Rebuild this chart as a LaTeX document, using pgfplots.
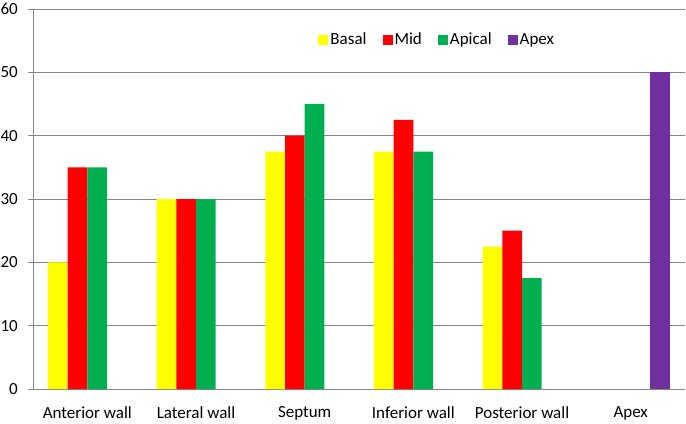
\documentclass[border=0pt]{standalone}
\usepackage{fontspec}
\setmainfont{Carlito}
\usepackage{pgfplots}
\pgfplotsset{compat=1.18}
\definecolor{cBasal}{HTML}{FFFF00}
\definecolor{cMid}{HTML}{FF0000}
\definecolor{cApical}{HTML}{00B050}
\definecolor{cApex}{HTML}{7030A0}
\definecolor{gridc}{HTML}{868686}
\begin{document}
\fontsize{17}{20}\selectfont
\begin{tikzpicture}
\begin{axis}[
  name=ax,
  scale only axis, width=652pt, height=380pt,
  ybar=0pt, bar width=0.181,
  xmin=-0.5, xmax=5.5, ymin=0, ymax=60,
  ytick={0,10,...,60},
  xtick={0,1,2,3,4,5},
  xticklabels={Anterior wall,Lateral wall,Septum,Inferior wall,Posterior wall,Apex},
  major x tick style={draw=none},
  extra x ticks={-0.5,0.5,1.5,2.5,3.5,4.5,5.5},
  extra x tick labels={},
  extra x tick style={tick style={draw=gridc, line width=0.8pt}, major tick length=5pt, tick pos=left, xtick align=outside, grid=none},
  ymajorgrids, grid style={gridc, line width=0.8pt},
  axis x line*=bottom, axis y line*=left,
  axis line style={gridc, line width=0.8pt, -},
  y axis line style={gridc},
  ytick style={draw=gridc, line width=0.8pt},
  ytick align=outside, major tick length=5pt,
  tick label style={font=\fontsize{17}{20}\selectfont, text=black},
  yticklabel style={inner sep=0pt, anchor=east, xshift=-10pt},
  xticklabel style={inner sep=0pt, yshift=-12.5pt},
  /pgf/number format/assume math mode=true,
  legend style={draw=none, fill=none, at={(0.62,0.918)}, anchor=center,
    legend columns=4, font=\fontsize{17}{20}\selectfont,
    /tikz/every even column/.append style={column sep=14pt}},
  legend image code/.code={\fill[#1] (0pt,-5pt) rectangle (10pt,5pt);},
  every axis plot/.append style={draw=none},
]
\addplot[fill=cBasal] coordinates {(0,20) (1,30) (2,37.5) (3,37.5) (4,22.5)};
\addplot[fill=cMid] coordinates {(0,35) (1,30) (2,40) (3,42.5) (4,25)};
\addplot[fill=cApical] coordinates {(0,35) (1,30) (2,45) (3,37.5) (4,17.5)};
\addplot[fill=cApex] coordinates {(5,50)};
\legend{Basal,Mid,Apical,Apex}
\end{axis}
\pgfresetboundingbox
\path ([xshift=-33pt,yshift=9pt]ax.north west) rectangle ([xshift=1pt,yshift=-34pt]ax.south east);
\end{tikzpicture}
\end{document}
